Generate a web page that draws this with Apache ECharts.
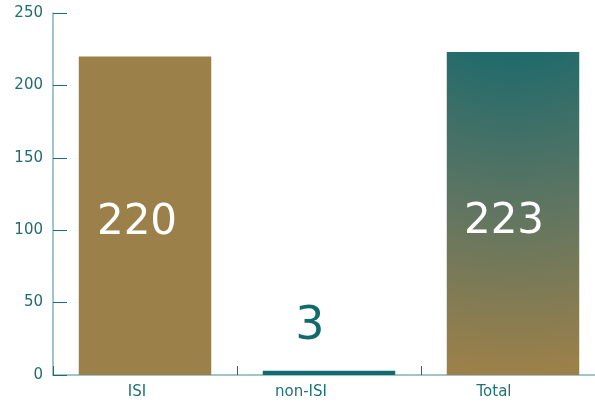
<!DOCTYPE html>
<html>
<head>
<meta charset="utf-8">
<script src="https://cdn.jsdelivr.net/npm/echarts@6/dist/echarts.min.js"></script>
<style>html,body{margin:0;padding:0;background:#fff}#c{width:595px;height:405px}</style>
</head>
<body>
<div id="c"></div>
<script>
var categories = ['ISI', 'non-ISI', 'Total'];
var values = [220, 3, 223];
var yTicks = [0, 50, 100, 150, 200, 250];

var TEAL = '#136a6c';
var GOLD = '#9b804a';
var FONT = 'DejaVu Sans';

var barStyles = [
  { color: GOLD },
  { color: TEAL },
  { color: new echarts.graphic.RadialGradient(0.5, -0.3, 3.16, [
      { offset: 0.23, color: '#1f6a6c' },
      { offset: 0.6, color: '#5e7562' },
      { offset: 1, color: '#9d8049' }
    ]) }
];
var labelStyles = [
  { show: true, position: 'inside', offset: [-8, 7], color: '#fff', fontSize: 42, fontFamily: FONT },
  { show: true, position: 'top', offset: [-19, -16], color: TEAL, fontSize: 46, fontFamily: FONT },
  { show: true, position: 'inside', offset: [-9, 9], color: '#fff', fontSize: 42, fontFamily: FONT }
];
var xShift = { 'ISI': 16, 'non-ISI': 56, 'Total': 38 };

var chart = echarts.init(document.getElementById('c'), null, { renderer: 'canvas' });
chart.setOption({
  animation: false,
  grid: { left: 53, width: 552, top: 13, bottom: 30, containLabel: false, outerBoundsMode: 'none' },
  xAxis: {
    type: 'category',
    data: categories,
    axisLine: { lineStyle: { color: '#7fb4b6', width: 1.5 } },
    axisTick: { show: true, alignWithLabel: false, inside: true, length: 9, lineStyle: { color: '#1d6e71', width: 1 } },
    axisLabel: {
      margin: 10,
      formatter: function (v) { return '{' + (v === 'ISI' ? 'a' : v === 'non-ISI' ? 'b' : 'c') + '|' + v + '}'; },
      rich: {
        a: { color: '#1d7275', fontSize: 15, fontFamily: FONT, padding: [0, xShift['ISI'], 0, 0] },
        b: { color: '#1d7275', fontSize: 15, fontFamily: FONT, padding: [0, xShift['non-ISI'], 0, 0] },
        c: { color: '#1d7275', fontSize: 15, fontFamily: FONT, padding: [0, xShift['Total'], 0, 0] }
      }
    },
    splitLine: { show: false }
  },
  yAxis: {
    type: 'value',
    min: yTicks[0],
    max: yTicks[yTicks.length - 1],
    interval: 50,
    axisLine: { show: true, lineStyle: { color: '#7fb4b6', width: 1.5 } },
    axisTick: { show: true, inside: true, length: 14, lineStyle: { color: '#1d6e71', width: 1 } },
    axisLabel: { margin: 10, color: '#1d6e71', fontSize: 15, fontFamily: FONT },
    splitLine: { show: false }
  },
  series: [{
    type: 'bar',
    barWidth: '72%',
    data: values.map(function (v, i) {
      return { value: v, itemStyle: barStyles[i], label: labelStyles[i] };
    })
  }]
});
</script>
</body>
</html>
